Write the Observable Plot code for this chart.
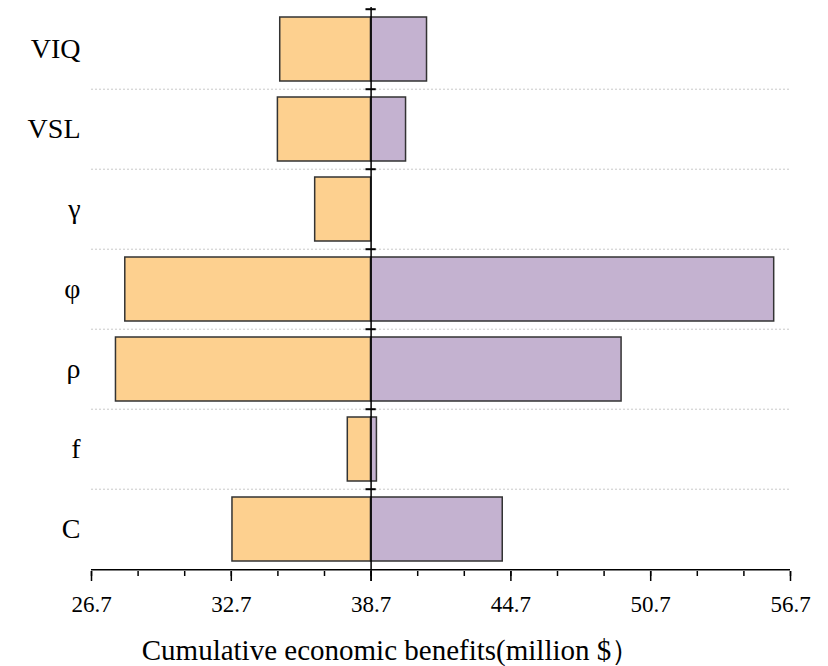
<!DOCTYPE html>
<html>
<head>
<meta charset="utf-8">
<script src="https://cdn.jsdelivr.net/npm/d3@7"></script>
<script src="https://cdn.jsdelivr.net/npm/@observablehq/plot@0.6"></script>
<style>
  html, body { margin: 0; padding: 0; background: #fff; }
</style>
</head>
<body>
<div id="chart"></div>
<script>
// ---- data ----
const categories = ["VIQ", "VSL", "γ", "φ", "ρ", "f", "C"];
const baseValue = 38.7;
const lowValues  = [34.8, 34.7, 36.3, 28.15, 27.75, 37.7, 32.75];
const highValues = [41.1, 40.2, 38.7, 56.0, 49.45, 38.95, 44.35];
const majorTicks = [26.7, 32.7, 38.7, 44.7, 50.7, 56.7];
const minorTicks = [26.7, 28.7, 30.7, 32.7, 34.7, 36.7, 38.7, 40.7, 42.7, 44.7, 46.7, 48.7, 50.7, 52.7, 54.7, 56.7];
const xTitle = "Cumulative economic benefits(million $）";

// ---- layout ----
const W = 828, H = 666, mT = 7, mB = 95, mL = 91, mR = 38;
const bw = (H - mT - mB) / categories.length;
const serif = "Liberation Serif";
const rows = categories.map((c, i) => ({cat: c, low: lowValues[i], high: highValues[i]}));

const chart = Plot.plot({
  width: W, height: H,
  marginTop: mT, marginBottom: mB, marginLeft: mL, marginRight: mR,
  style: "background:#fff;color:#000;font-family:'Liberation Serif',serif;",
  x: {domain: [26.7, 56.7]},
  y: {domain: categories, padding: 0},
  marks: [
    Plot.ruleY(categories.slice(1), {y: d => d, dy: -bw / 2, stroke: "#c8c8c8", strokeDasharray: "2,2", strokeWidth: 1}),
    Plot.barX(rows, {y: "cat", x1: () => baseValue, x2: "low", fill: "#FDD08F", stroke: "#333", strokeWidth: 1.5, insetTop: 8, insetBottom: 8}),
    Plot.barX(rows, {y: "cat", x1: () => baseValue, x2: "high", fill: "#C4B2D0", stroke: "#333", strokeWidth: 1.5, insetTop: 8, insetBottom: 8}),
    Plot.ruleX([baseValue], {stroke: "#000", strokeWidth: 1.5, insetBottom: -10}),
    Plot.ruleY(categories, {y: d => d, x1: () => baseValue - 0.22, x2: () => baseValue + 0.22, dy: -bw / 2, stroke: "#000", strokeWidth: 2}),
    Plot.ruleY([categories[categories.length - 1]], {y: d => d, x1: () => 26.7, x2: () => 56.7, dy: bw / 2, stroke: "#000", strokeWidth: 1.5}),
    Plot.axisX({ticks: minorTicks, tickSize: 5, tickFormat: () => "", label: null, stroke: "#000", strokeWidth: 1.5}),
    Plot.axisX({ticks: majorTicks, tickSize: 10, tickPadding: 14, tickFormat: d => d.toFixed(1), fontSize: 23, fontFamily: serif, label: null, stroke: "#000", strokeWidth: 1.5}),
    Plot.axisY({tickSize: 0, tickPadding: 11, fontSize: 28, fontFamily: serif, label: null}),
    Plot.text([xTitle], {text: d => d, frameAnchor: "bottom", dy: 79, dx: -50, fontSize: 29, fontFamily: serif, lineAnchor: "middle", fill: "#000"})
  ]
});
document.getElementById("chart").appendChild(chart);
</script>
</body>
</html>
